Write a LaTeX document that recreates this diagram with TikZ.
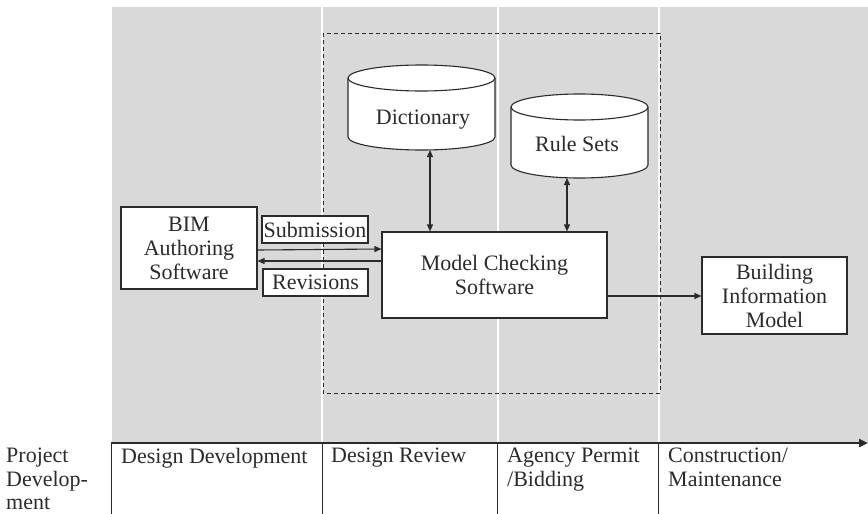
\documentclass[tikz,border=0pt]{standalone}
\usepackage{fontspec}
\setmainfont{Liberation Serif}
\usetikzlibrary{arrows.meta}
\definecolor{lanegray}{HTML}{D9D9D9}
\definecolor{inkc}{HTML}{2B2B2B}
% drum (database) shape: left x, right x, top y, bottom y
\newcommand\dbdrum[4]{%
  \pgfmathsetmacro\drumrx{(#2-#1)/2}%
  \draw[drum] (#1,#3+13) -- (#1,#4-13)
    arc[start angle=180,end angle=360,x radius=\drumrx pt,y radius=13pt]
    -- (#2,#3+13)
    arc[start angle=0,end angle=180,x radius=\drumrx pt,y radius=13pt] -- cycle;
  \draw[drumedge] (#1,#3+13)
    arc[start angle=180,end angle=360,x radius=\drumrx pt,y radius=13pt];}
\begin{document}
\begin{tikzpicture}[x=1pt,y=-1pt,
  every node/.style={font=\fontsize{22}{24}\selectfont, text=inkc},
  box/.style={draw=inkc, fill=white, line width=1.1pt, inner sep=0pt, align=center},
  drum/.style={draw=inkc, fill=white, line width=1.1pt},
  drumedge/.style={draw=inkc, line width=1.1pt},
  label/.style={inner sep=0pt, anchor=north west, align=left},
  conn/.style={draw=inkc, line width=1.1pt, -{Triangle[length=7pt,width=6pt]}},
  biconn/.style={draw=inkc, line width=1.1pt, {Triangle[length=7pt,width=6pt]}-{Triangle[length=7pt,width=6pt]}},
  lane/.style={draw=white, line width=1.5pt},
  tick/.style={draw=inkc, line width=1pt}]
\useasboundingbox (0,0) rectangle (868,514);

% shaded project-phase band and lane dividers
\fill[lanegray] (112,7) rectangle (868,443);
\foreach \lx in {322,498,659} \draw[lane] (\lx,7) -- (\lx,443);

% checking environment (dashed frame)
\draw[inkc, line width=1pt, dash pattern=on 4pt off 3pt] (323,33) rectangle (660,393);

% databases
\dbdrum{348}{495}{65}{150}
\dbdrum{511}{648}{94}{178}
\node[inner sep=0pt] (dict) at (423,120) {Dictionary};
\node[inner sep=0pt] (rules) at (577,143.5) {Rule Sets};

% process boxes
\node[box, minimum width=136pt, minimum height=82pt] (bim) at (189,248) {BIM\\Authoring\\Software};
\node[box, minimum width=106pt, minimum height=27pt] (sub) at (315,229.5) {Submission};
\node[box, minimum width=105pt, minimum height=27pt] (rev) at (315.5,282.5) {Revisions};
\node[box, minimum width=225pt, minimum height=86pt] (mc) at (494.5,275) {Model Checking\\Software};
\node[box, minimum width=145pt, minimum height=77pt] (model) at (774.5,295.5) {Building\\Information\\Model};

% connectors
\coordinate (dictb) at (430,150);
\coordinate (ruleb) at (567,178);
\draw[biconn] (dictb) -- (dictb |- mc.north);
\draw[biconn] (ruleb) -- (ruleb |- mc.north);
\draw[conn] ([yshift=-1pt]bim.east |- 0,249) -- (mc.west |- 0,249);
\draw[conn] (mc.west |- 0,261) -- (bim.east |- 0,261);
\draw[conn] (mc.east |- 0,296) -- (model.west |- 0,296);

% project timeline
\coordinate (axL) at (111,443);
\coordinate (axR) at (868,443);
\draw[inkc, line width=2.5pt, -{Triangle[length=9pt,width=8pt]}] (axL) -- (axR);
\foreach \lx in {111,322,497,658} \draw[tick] (\lx,443) -- (\lx,514);

\node[label, font=\fontsize{22}{23.5}\selectfont] (pd) at (6,448) {Project\\Develop-\\ment};
\node[label] (ph1) at (121,448) {Design Development};
\node[label] (ph2) at (331,448) {Design Review};
\node[label] (ph3) at (507,448) {Agency Permit\\/Bidding};
\node[label] (ph4) at (668,448) {Construction/\\Maintenance};
\end{tikzpicture}
\end{document}
